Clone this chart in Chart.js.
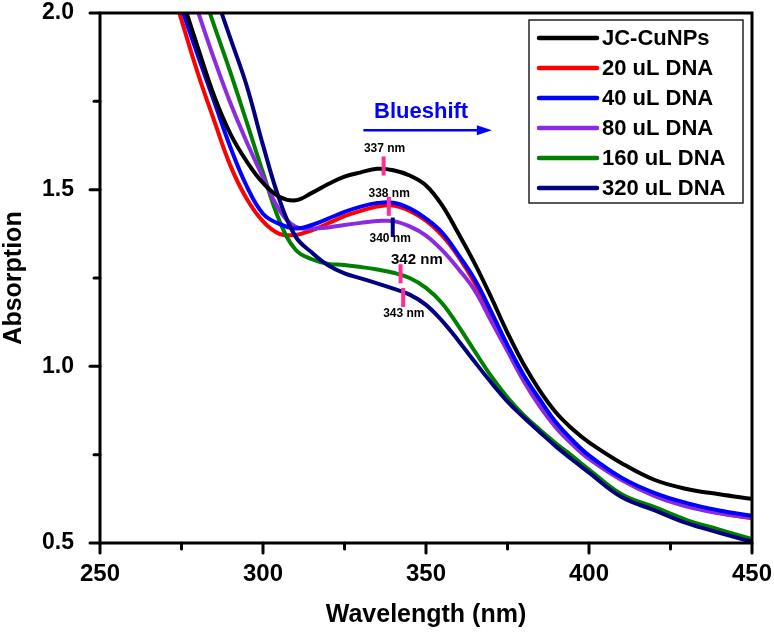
<!DOCTYPE html>
<html>
<head>
<meta charset="utf-8">
<script src="https://cdn.jsdelivr.net/npm/chart.js@4.4.0/dist/chart.umd.min.js"></script>
<style>
  html, body { margin: 0; padding: 0; background: #fff; }
</style>
</head>
<body>
<canvas id="uvChart" width="774" height="635"></canvas>
<script>
// UV-vis absorption spectra, JC-CuNPs + DNA titration

var wavelengths = [270, 275, 280, 285, 290, 295, 300, 305, 310, 315, 320, 325, 330, 335, 340, 345,
  350, 355, 360, 365, 370, 375, 380, 385, 390, 395, 400, 410, 420, 430, 440, 450];

var jcCuNPs = [2.19, 2.045, 1.903, 1.766, 1.658, 1.58, 1.519, 1.48, 1.47, 1.491, 1.516, 1.537, 1.549, 1.559, 1.555, 1.54,
  1.512, 1.455, 1.375, 1.29, 1.195, 1.095, 1.005, 0.93, 0.868, 0.822, 0.785, 0.726, 0.679, 0.653, 0.638, 0.625];
var dna20 = [2.13, 1.98, 1.83, 1.696, 1.568, 1.474, 1.41, 1.375, 1.372, 1.385, 1.405, 1.425, 1.44, 1.452, 1.455, 1.44,
  1.412, 1.37, 1.31, 1.235, 1.145, 1.05, 0.965, 0.89, 0.83, 0.78, 0.74, 0.68, 0.635, 0.605, 0.585, 0.57];
var dna40 = [2.17, 2.016, 1.88, 1.75, 1.62, 1.51, 1.432, 1.403, 1.39, 1.40, 1.418, 1.437, 1.452, 1.462, 1.463, 1.447,
  1.418, 1.378, 1.315, 1.245, 1.155, 1.06, 0.975, 0.905, 0.84, 0.79, 0.748, 0.685, 0.642, 0.613, 0.592, 0.577];
var dna80 = [null, 2.14, 2.005, 1.87, 1.745, 1.635, 1.535, 1.443, 1.395, 1.39, 1.393, 1.40, 1.406, 1.411, 1.411, 1.396,
  1.37, 1.328, 1.275, 1.214, 1.128, 1.043, 0.958, 0.885, 0.825, 0.778, 0.738, 0.678, 0.633, 0.603, 0.584, 0.571];
var dna160 = [null, null, 2.10, 1.965, 1.832, 1.691, 1.548, 1.413, 1.33, 1.303, 1.29, 1.287, 1.281, 1.274, 1.265, 1.25,
  1.222, 1.178, 1.113, 1.042, 0.972, 0.912, 0.862, 0.82, 0.781, 0.745, 0.708, 0.638, 0.602, 0.565, 0.538, 0.511];
var dna320 = [null, null, 2.195, 2.061, 1.928, 1.794, 1.626, 1.473, 1.367, 1.322, 1.286, 1.263, 1.249, 1.235, 1.22, 1.203,
  1.174, 1.128, 1.072, 1.012, 0.954, 0.9, 0.855, 0.813, 0.772, 0.735, 0.699, 0.63, 0.593, 0.556, 0.529, 0.503];

var seriesNames = ['JC-CuNPs', '20 uL DNA', '40 uL DNA', '80 uL DNA', '160 uL DNA', '320 uL DNA'];
var seriesColors = ['#000000', '#ff0000', '#0000ff', '#8a2be2', '#008000', '#000080'];
var seriesValues = [jcCuNPs, dna20, dna40, dna80, dna160, dna320];
var drawOrder = [1, 6, 3, 4, 5, 2]; // red underneath, black on top

// peak marks: wavelength, absorption range of the tick, label position
var peakLabels = ['337 nm', '338 nm', '340 nm', '342 nm', '343 nm'];
var peakX = [337, 338.6, 339.8, 342.2, 343];
var peakLow = [1.540, 1.426, 1.366, 1.235, 1.168];
var peakHigh = [1.594, 1.480, 1.421, 1.289, 1.222];
var labelX = [337.3, 338.7, 339.0, 347.2, 343.2];
var labelY = [1.616, 1.490, 1.360, 1.300, 1.149];

var FONT = "'Liberation Sans', Arial, sans-serif";

function toPoints(vals) {
  var pts = [];
  for (var i = 0; i < wavelengths.length; i++) {
    if (vals[i] !== null) pts.push({ x: wavelengths[i], y: vals[i] });
  }
  return pts;
}

var datasets = seriesNames.map(function (name, i) {
  return {
    label: name,
    data: toPoints(seriesValues[i]),
    borderColor: seriesColors[i],
    backgroundColor: seriesColors[i],
    borderWidth: 4,
    pointRadius: 0,
    tension: 0.4,
    order: drawOrder[i],
    clip: 0
  };
});

var framePlugin = {
  id: 'frame',
  afterDatasetsDraw: function (chart) {
    var c = chart.ctx, a = chart.chartArea;
    var xs = chart.scales.x, ys = chart.scales.y;
    c.save();

    // annotations
    c.lineCap = 'butt';
    for (var i = 0; i < peakX.length; i++) {
      var px = xs.getPixelForValue(peakX[i]);
      c.strokeStyle = i === 2 ? '#000080' : '#ff2d95';
      c.lineWidth = 4;
      c.beginPath();
      c.moveTo(px, ys.getPixelForValue(peakHigh[i]));
      c.lineTo(px, ys.getPixelForValue(peakLow[i]));
      c.stroke();
    }
    c.fillStyle = '#000';
    c.textAlign = 'center';
    c.textBaseline = 'middle';
    for (var j = 0; j < peakLabels.length; j++) {
      c.font = 'bold ' + (j === 3 ? 15 : 12) + 'px ' + FONT;
      c.fillText(peakLabels[j], xs.getPixelForValue(labelX[j]), ys.getPixelForValue(labelY[j]));
    }

    // blueshift arrow
    var ax0 = xs.getPixelForValue(330.8), ax1 = xs.getPixelForValue(370.2), ay = ys.getPixelForValue(1.668);
    c.strokeStyle = '#0000ff';
    c.fillStyle = '#0000ff';
    c.lineWidth = 2.5;
    c.beginPath(); c.moveTo(ax0, ay); c.lineTo(ax1 - 12, ay); c.stroke();
    c.beginPath(); c.moveTo(ax1, ay); c.lineTo(ax1 - 15, ay - 5); c.lineTo(ax1 - 15, ay + 5); c.closePath(); c.fill();
    c.font = 'bold 22px ' + FONT;
    c.textBaseline = 'alphabetic';
    c.fillText('Blueshift', xs.getPixelForValue(348.5), ys.getPixelForValue(1.702));

    // frame
    c.strokeStyle = '#000';
    c.lineWidth = 3;
    c.strokeRect(a.left, a.top, a.right - a.left, a.bottom - a.top);
    c.lineCap = 'round';
    xs.ticks.forEach(function (t) {
      var p = xs.getPixelForValue(t.value);
      var len = t.value % 50 === 0 ? 10 : 6;
      c.beginPath(); c.moveTo(p, a.bottom); c.lineTo(p, a.bottom + len); c.stroke();
    });
    ys.ticks.forEach(function (t) {
      var p = ys.getPixelForValue(t.value);
      var major = Math.abs(t.value * 2 - Math.round(t.value * 2)) < 1e-6;
      var len = major ? 10 : 6;
      c.beginPath(); c.moveTo(a.left, p); c.lineTo(a.left - len, p); c.stroke();
    });

    // legend box
    var lx = 529, ly = 20, lw = 214, lh = 183;
    c.lineWidth = 1.5;
    c.strokeStyle = '#222';
    c.fillStyle = '#fff';
    c.fillRect(lx, ly, lw, lh);
    c.strokeRect(lx, ly, lw, lh);
    c.font = 'bold 22px ' + FONT;
    c.textAlign = 'left';
    c.textBaseline = 'middle';
    chart.data.datasets.forEach(function (ds, k) {
      var yy = 38 + k * 30;
      c.strokeStyle = ds.borderColor;
      c.lineWidth = 4.5;
      c.lineCap = 'round';
      c.beginPath(); c.moveTo(539, yy); c.lineTo(597, yy); c.stroke();
      c.fillStyle = '#000';
      c.fillText(ds.label, 602, yy + 1);
    });
    c.restore();
  }
};

new Chart(document.getElementById('uvChart'), {
  type: 'line',
  data: { datasets: datasets },
  options: {
    responsive: false,
    animation: false,
    layout: { padding: { top: 13, right: 22, left: 0, bottom: 0 } },
    plugins: { legend: { display: false }, tooltip: { enabled: false } },
    scales: {
      x: {
        type: 'linear',
        min: 250, max: 450,
        grid: { display: false },
        border: { display: false },
        afterFit: function (s) { s.height = 92; s.paddingLeft = 0; s.paddingRight = 0; },
        ticks: {
          stepSize: 25,
          padding: 9,
          color: '#000',
          maxRotation: 0,
          autoSkip: false,
          font: { family: FONT, size: 24, weight: 'bold' },
          callback: function (v) { return v % 50 === 0 ? String(v) : ''; }
        },
        title: {
          display: true,
          text: 'Wavelength (nm)',
          color: '#000',
          font: { family: FONT, size: 25, weight: 'bold', lineHeight: 1.2 },
          padding: { top: 0, bottom: 5 }
        }
      },
      y: {
        min: 0.5, max: 2.0,
        grid: { display: false },
        border: { display: false },
        afterFit: function (s) { s.width = 100; s.paddingTop = 0; s.paddingBottom = 0; },
        ticks: {
          stepSize: 0.25,
          padding: 18,
          color: '#000',
          autoSkip: false,
          font: { family: FONT, size: 23, weight: 'bold' },
          callback: function (v) {
            return Math.abs(v * 2 - Math.round(v * 2)) < 1e-6 ? v.toFixed(1) : '';
          }
        },
        title: {
          display: true,
          text: 'Absorption',
          color: '#000',
          font: { family: FONT, size: 25, weight: 'bold', lineHeight: 1.1 },
          padding: { top: 0, bottom: 0 }
        }
      }
    }
  },
  plugins: [framePlugin]
});
</script>
</body>
</html>
